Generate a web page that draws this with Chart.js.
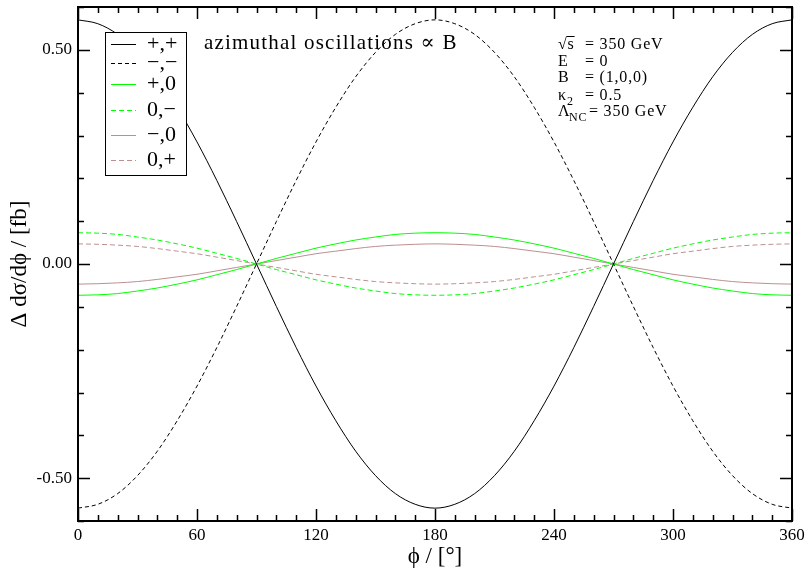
<!DOCTYPE html>
<html>
<head>
<meta charset="utf-8">
<script src="https://cdn.jsdelivr.net/npm/chart.js@4/dist/chart.umd.min.js"></script>
<style>
  body { margin: 0; background: #fff; }
</style>
</head>
<body>
<canvas id="c" width="806" height="568"></canvas>
<script>
// azimuthal angle phi in degrees, one point every 10 deg
const phi = [0,10,20,30,40,50,60,70,80,90,100,110,120,130,140,150,160,170,180,190,200,210,220,230,240,250,260,270,280,290,300,310,320,330,340,350,360];

// values (fb)
const ppVals = [0.570,0.561,0.536,0.494,0.437,0.366,0.285,0.195,0.099,0.000,-0.099,-0.195,-0.285,-0.366,-0.437,-0.494,-0.536,-0.561,-0.570,-0.561,-0.536,-0.494,-0.437,-0.366,-0.285,-0.195,-0.099,0.000,0.099,0.195,0.285,0.366,0.437,0.494,0.536,0.561,0.570];
const mmVals = [-0.570,-0.561,-0.536,-0.494,-0.437,-0.366,-0.285,-0.195,-0.099,0.000,0.099,0.195,0.285,0.366,0.437,0.494,0.536,0.561,0.570,0.561,0.536,0.494,0.437,0.366,0.285,0.195,0.099,0.000,-0.099,-0.195,-0.285,-0.366,-0.437,-0.494,-0.536,-0.561,-0.570];
const p0Vals = [-0.073,-0.072,-0.069,-0.063,-0.056,-0.047,-0.037,-0.025,-0.013,0.000,0.013,0.025,0.037,0.047,0.056,0.063,0.069,0.072,0.073,0.072,0.069,0.063,0.056,0.047,0.037,0.025,0.013,0.000,-0.013,-0.025,-0.037,-0.047,-0.056,-0.063,-0.069,-0.072,-0.073];
const zmVals = [0.073,0.072,0.069,0.063,0.056,0.047,0.037,0.025,0.013,0.000,-0.013,-0.025,-0.037,-0.047,-0.056,-0.063,-0.069,-0.072,-0.073,-0.072,-0.069,-0.063,-0.056,-0.047,-0.037,-0.025,-0.013,0.000,0.013,0.025,0.037,0.047,0.056,0.063,0.069,0.072,0.073];
const m0Vals = [-0.047,-0.046,-0.044,-0.041,-0.036,-0.030,-0.024,-0.016,-0.008,0.000,0.008,0.016,0.024,0.030,0.036,0.041,0.044,0.046,0.047,0.046,0.044,0.041,0.036,0.030,0.024,0.016,0.008,0.000,-0.008,-0.016,-0.024,-0.030,-0.036,-0.041,-0.044,-0.046,-0.047];
const zpVals = [0.047,0.046,0.044,0.041,0.036,0.030,0.024,0.016,0.008,0.000,-0.008,-0.016,-0.024,-0.030,-0.036,-0.041,-0.044,-0.046,-0.047,-0.046,-0.044,-0.041,-0.036,-0.030,-0.024,-0.016,-0.008,0.000,0.008,0.016,0.024,0.030,0.036,0.041,0.044,0.046,0.047];

const seriesLabels = ['+,+', '\u2212,\u2212', '+,0', '0,\u2212', '\u2212,0', '0,+'];

const SERIF = '"Liberation Serif", "DejaVu Serif", serif';
const BLACK = '#000000';
const GREEN = '#00ff00';
const BROWN = '#bc8f8f';

const pts = vals => phi.map((p, i) => ({ x: p, y: vals[i] }));

function line(label, vals, color, dash) {
  return {
    label: label,
    data: pts(vals),
    borderColor: color,
    borderWidth: 1,
    borderDash: dash,
    pointRadius: 0,
    fill: false,
    cubicInterpolationMode: 'monotone'
  };
}

// frame + inward ticks on all four sides (xmgrace style)
const framePlugin = {
  id: 'frame',
  afterDraw(chart) {
    const { ctx, chartArea: a, scales: { x, y } } = chart;
    ctx.save();
    ctx.strokeStyle = BLACK;
    ctx.lineWidth = 1.5;
    x.ticks.forEach(t => {
      const px = Math.round(x.getPixelForValue(t.value)) + 0.5;
      const len = t.value % 60 === 0 ? 12 : 6;
      ctx.beginPath();
      ctx.moveTo(px, a.bottom); ctx.lineTo(px, a.bottom - len);
      ctx.moveTo(px, a.top); ctx.lineTo(px, a.top + len);
      ctx.stroke();
    });
    y.ticks.forEach(t => {
      const py = Math.round(y.getPixelForValue(t.value)) + 0.5;
      const len = Math.round(t.value * 10) % 5 === 0 ? 12 : 6;
      ctx.beginPath();
      ctx.moveTo(a.left, py); ctx.lineTo(a.left + len, py);
      ctx.moveTo(a.right, py); ctx.lineTo(a.right - len, py);
      ctx.stroke();
    });
    ctx.lineWidth = 2;
    ctx.strokeRect(a.left, a.top, a.right - a.left, a.bottom - a.top);
    ctx.restore();
  }
};

// boxed legend, title and parameter block
const notesPlugin = {
  id: 'notes',
  afterDatasetsDraw(chart) {
    const ctx = chart.ctx;
    ctx.save();
    // legend box
    ctx.fillStyle = '#fff';
    ctx.fillRect(105, 32, 81, 143);
    ctx.strokeStyle = BLACK;
    ctx.lineWidth = 1;
    ctx.strokeRect(105.5, 32.5, 81, 143);
    const rows = [44, 63, 84, 110, 135, 160];
    chart.data.datasets.forEach((ds, i) => {
      const yy = rows[i] + 0.5;
      ctx.strokeStyle = ds.borderColor;
      ctx.setLineDash(ds.borderDash || []);
      ctx.beginPath();
      ctx.moveTo(111, yy); ctx.lineTo(136, yy);
      ctx.stroke();
      ctx.setLineDash([]);
      ctx.fillStyle = BLACK;
      ctx.font = '22px ' + SERIF;
      ctx.textBaseline = 'middle';
      ctx.textAlign = 'left';
      ctx.fillText(ds.label, 147, rows[i]);
    });

    // title (reference glyphs run a bit wider)
    ctx.font = '21px ' + SERIF;
    ctx.letterSpacing = '1.2px';
    ctx.fillText('azimuthal oscillations \u221d B', 204, 43);

    // parameters
    ctx.font = '16px ' + SERIF;
    ctx.letterSpacing = '0.8px';
    const px = 558, ex = 585;
    const ry = [45, 62, 78, 96, 112];
    ctx.fillText('\u221as', px, ry[0]);
    const sw = ctx.measureText('\u221a').width;
    const sw2 = ctx.measureText('s').width;
    ctx.lineWidth = 1;
    ctx.strokeStyle = BLACK;
    ctx.beginPath();
    ctx.moveTo(px + sw - 1, ry[0] - 8.5); ctx.lineTo(px + sw + sw2, ry[0] - 8.5);
    ctx.stroke();
    ctx.fillText('= 350 GeV', ex, ry[0]);
    ctx.fillText('E', px, ry[1]);
    ctx.fillText('= 0', ex, ry[1]);
    ctx.fillText('B', px, ry[2]);
    ctx.fillText('= (1,0,0)', ex, ry[2]);
    ctx.fillText('\u03ba', px, ry[3]);
    ctx.font = '12px ' + SERIF;
    ctx.fillText('2', px + 9, ry[3] + 6);
    ctx.font = '16px ' + SERIF;
    ctx.fillText('= 0.5', ex, ry[3]);
    ctx.fillText('\u039b', px, ry[4]);
    ctx.font = '12px ' + SERIF;
    ctx.fillText('NC', px + 11, ry[4] + 6);
    ctx.font = '16px ' + SERIF;
    ctx.fillText('= 350 GeV', ex + 4, ry[4]);
    ctx.restore();
  }
};

new Chart(document.getElementById('c').getContext('2d'), {
  type: 'line',
  data: {
    datasets: [
      line(seriesLabels[0], ppVals, BLACK, []),
      line(seriesLabels[1], mmVals, BLACK, [4, 3]),
      line(seriesLabels[2], p0Vals, GREEN, []),
      line(seriesLabels[3], zmVals, GREEN, [5, 3]),
      line(seriesLabels[4], m0Vals, BROWN, []),
      line(seriesLabels[5], zpVals, BROWN, [5, 3])
    ]
  },
  options: {
    responsive: false,
    animation: false,
    layout: { padding: { top: 7, right: 14, left: 0, bottom: 0 } },
    plugins: { legend: { display: false }, tooltip: { enabled: false } },
    scales: {
      x: {
        type: 'linear',
        min: 0,
        max: 360,
        grid: { display: false, drawTicks: false },
        border: { display: false },
        ticks: {
          stepSize: 10,
          autoSkip: false,
          maxRotation: 0,
          padding: 4,
          color: BLACK,
          font: { family: SERIF, size: 17 },
          callback: v => (v % 60 === 0 ? String(v) : '')
        },
        title: {
          display: true,
          text: '\u03d5 / [\u00b0]',
          color: BLACK,
          font: { family: SERIF, size: 23, lineHeight: 1 },
          padding: { top: 0, bottom: 0 }
        },
        afterFit: s => { s.height = 47; s.paddingLeft = 0; s.paddingRight = 0; }
      },
      y: {
        min: -0.6,
        max: 0.6,
        grid: { display: false, drawTicks: false },
        border: { display: false },
        ticks: {
          stepSize: 0.1,
          padding: 6,
          color: BLACK,
          font: { family: SERIF, size: 17 },
          callback: v => {
            if (Math.round(v * 10) % 5 !== 0) return '';
            return Math.abs(v) < 1e-9 ? '0.00' : v.toFixed(2);
          }
        },
        title: {
          display: true,
          text: '\u0394 d\u03c3/d\u03d5 / [fb]',
          color: BLACK,
          font: { family: SERIF, size: 23, lineHeight: 1 },
          padding: { top: 8, bottom: 0 }
        },
        afterFit: s => { s.width = 78; s.paddingTop = 0; s.paddingBottom = 0; }
      }
    }
  },
  plugins: [framePlugin, notesPlugin]
});
</script>
</body>
</html>
